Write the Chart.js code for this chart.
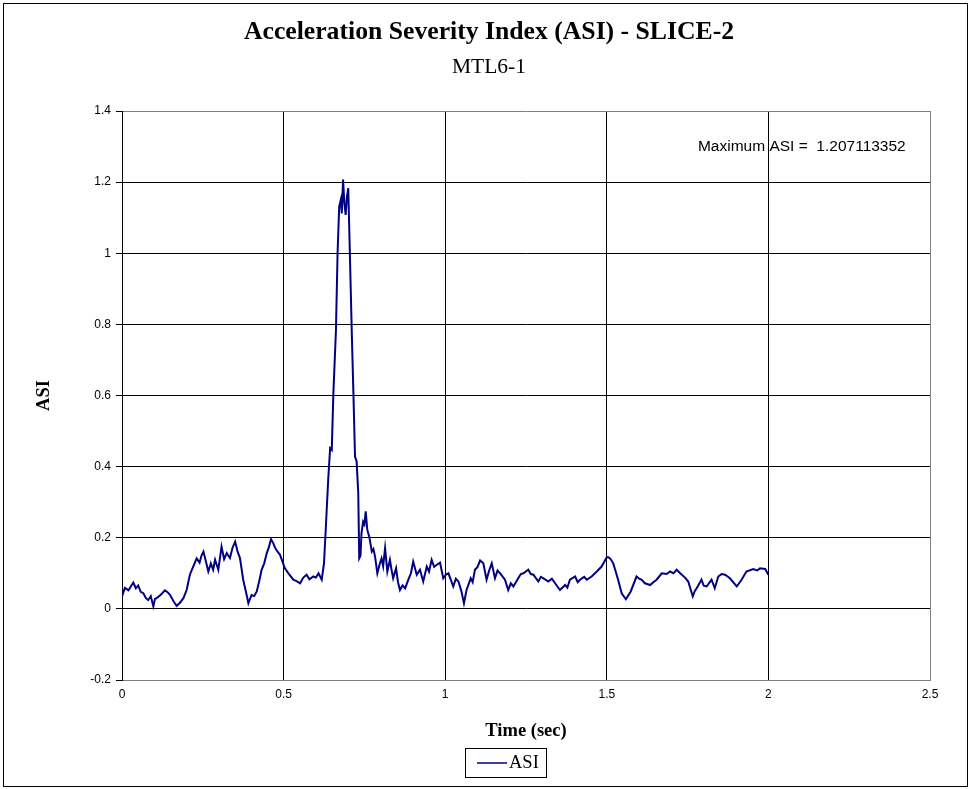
<!DOCTYPE html>
<html>
<head>
<meta charset="utf-8">
<script src="https://cdn.jsdelivr.net/npm/chart.js@4.4.1/dist/chart.umd.min.js"></script>
<style>
  body { margin: 0; background: #fff; }
  canvas { display: block; }
</style>
</head>
<body>
<canvas id="asi" width="972" height="789"></canvas>
<script>
// ASI trace (time in sec)
const time = [
  0, 0.009, 0.02, 0.035, 0.043, 0.05, 0.058, 0.066, 0.074, 0.081,
  0.089, 0.097, 0.102, 0.107, 0.12, 0.133, 0.141, 0.149, 0.159, 0.169,
  0.18, 0.19, 0.2, 0.21, 0.22, 0.231, 0.24, 0.246, 0.252, 0.26,
  0.267, 0.275, 0.282, 0.288, 0.298, 0.308, 0.316, 0.324, 0.334, 0.342,
  0.35, 0.358, 0.365, 0.375, 0.383, 0.391, 0.396, 0.401, 0.409, 0.417,
  0.425, 0.432, 0.44, 0.448, 0.455, 0.461, 0.468, 0.474, 0.482, 0.489,
  0.504, 0.515, 0.53, 0.54, 0.551, 0.561, 0.571, 0.58, 0.592, 0.6,
  0.608, 0.618, 0.625, 0.63, 0.638, 0.644, 0.649, 0.654, 0.662, 0.667,
  0.672, 0.677, 0.68, 0.684, 0.688, 0.692, 0.696, 0.7, 0.703, 0.708,
  0.711, 0.716, 0.721, 0.726, 0.731, 0.734, 0.738, 0.741, 0.746, 0.75,
  0.754, 0.759, 0.765, 0.773, 0.778, 0.783, 0.79, 0.797, 0.803, 0.808,
  0.814, 0.821, 0.829, 0.834, 0.839, 0.848, 0.854, 0.86, 0.868, 0.876,
  0.886, 0.894, 0.901, 0.912, 0.922, 0.932, 0.943, 0.95, 0.958, 0.966,
  0.974, 0.984, 0.994, 1.002, 1.01, 1.018, 1.025, 1.033, 1.041, 1.05,
  1.058, 1.066, 1.079, 1.085, 1.092, 1.1, 1.108, 1.118, 1.128, 1.136,
  1.144, 1.154, 1.162, 1.17, 1.185, 1.195, 1.203, 1.211, 1.226, 1.234,
  1.242, 1.257, 1.265, 1.273, 1.288, 1.296, 1.304, 1.319, 1.33, 1.34,
  1.355, 1.371, 1.378, 1.386, 1.402, 1.41, 1.417, 1.43, 1.438, 1.453,
  1.469, 1.484, 1.5, 1.505, 1.512, 1.52, 1.535, 1.546, 1.559, 1.574,
  1.592, 1.6, 1.608, 1.618, 1.634, 1.644, 1.654, 1.67, 1.685, 1.696,
  1.706, 1.716, 1.732, 1.742, 1.752, 1.766, 1.772, 1.778, 1.793, 1.8,
  1.809, 1.824, 1.834, 1.845, 1.855, 1.866, 1.881, 1.902, 1.917, 1.932,
  1.953, 1.965, 1.974, 1.99, 2.0
];
const asi = [
  0.035, 0.059, 0.052, 0.074, 0.058, 0.066, 0.048, 0.044, 0.030, 0.025,
  0.036, 0.007, 0.028, 0.030, 0.040, 0.052, 0.047, 0.039, 0.022, 0.008,
  0.018, 0.030, 0.053, 0.096, 0.118, 0.142, 0.130, 0.150, 0.161, 0.132,
  0.105, 0.128, 0.110, 0.138, 0.110, 0.175, 0.140, 0.157, 0.143, 0.172,
  0.189, 0.160, 0.143, 0.082, 0.050, 0.016, 0.028, 0.039, 0.036, 0.049,
  0.080, 0.110, 0.128, 0.157, 0.175, 0.196, 0.185, 0.171, 0.160, 0.152,
  0.114, 0.100, 0.082, 0.078, 0.072, 0.088, 0.096, 0.083, 0.091, 0.088,
  0.100, 0.082, 0.128, 0.217, 0.363, 0.452, 0.447, 0.606, 0.784, 1.0,
  1.131, 1.150, 1.112, 1.207, 1.141, 1.108, 1.159, 1.183, 1.075, 0.888,
  0.775, 0.606, 0.428, 0.414, 0.325, 0.142, 0.150, 0.213, 0.245, 0.238,
  0.274, 0.222, 0.203, 0.161, 0.168, 0.147, 0.100, 0.125, 0.142, 0.120,
  0.171, 0.105, 0.138, 0.110, 0.086, 0.114, 0.075, 0.053, 0.066, 0.058,
  0.082, 0.100, 0.133, 0.096, 0.110, 0.077, 0.119, 0.105, 0.138, 0.118,
  0.124, 0.130, 0.086, 0.096, 0.100, 0.080, 0.063, 0.085, 0.077, 0.050,
  0.016, 0.053, 0.086, 0.075, 0.110, 0.118, 0.136, 0.128, 0.082, 0.108,
  0.128, 0.086, 0.108, 0.100, 0.082, 0.053, 0.072, 0.063, 0.086, 0.098,
  0.100, 0.110, 0.098, 0.096, 0.077, 0.090, 0.086, 0.077, 0.085, 0.072,
  0.053, 0.067, 0.060, 0.082, 0.091, 0.075, 0.082, 0.090, 0.082, 0.091,
  0.105, 0.119, 0.145, 0.145, 0.140, 0.128, 0.082, 0.044, 0.027, 0.049,
  0.091, 0.085, 0.082, 0.072, 0.067, 0.075, 0.082, 0.100, 0.098, 0.105,
  0.100, 0.110, 0.096, 0.088, 0.077, 0.035, 0.050, 0.058, 0.082, 0.065,
  0.063, 0.082, 0.058, 0.091, 0.098, 0.096, 0.086, 0.063, 0.082, 0.105,
  0.112, 0.108, 0.114, 0.112, 0.096
];
const xTicks = [0, 0.5, 1, 1.5, 2, 2.5];
const yTicks = [-0.2, 0, 0.2, 0.4, 0.6, 0.8, 1, 1.2, 1.4];
const maxLabel = 'Maximum ASI =  1.207113352';

const serif = "'Liberation Serif', 'Times New Roman', serif";
const sans = "'Liberation Sans', Arial, sans-serif";
const lineColor = '#000080';

// frame, max annotation and boxed legend
const extras = {
  id: 'extras',
  beforeDraw(chart) {
    const ctx = chart.ctx;
    ctx.save();
    ctx.fillStyle = '#fff';
    ctx.fillRect(0, 0, chart.width, chart.height);
    ctx.restore();
  },
  afterDraw(chart) {
    const ctx = chart.ctx;
    const x = chart.scales.x, y = chart.scales.y;
    ctx.save();
    ctx.strokeStyle = '#000';
    ctx.lineWidth = 1;
    ctx.strokeRect(3.5, 3.5, 964, 783);

    ctx.fillStyle = '#000';
    ctx.font = '15.5px ' + sans;
    ctx.textAlign = 'left';
    ctx.textBaseline = 'middle';
    ctx.fillText(maxLabel, x.getPixelForValue(1.782), y.getPixelForValue(1.299));

    // legend
    ctx.strokeRect(465.5, 748.5, 81, 29);
    ctx.strokeStyle = lineColor;
    ctx.lineWidth = 1.5;
    ctx.beginPath();
    ctx.moveTo(477, 763);
    ctx.lineTo(507, 763);
    ctx.stroke();
    ctx.fillStyle = '#000';
    ctx.font = '18.5px ' + serif;
    ctx.fillText('ASI', 509, 763);
    ctx.restore();
  }
};

const edge = (v, ends) => ends.includes(v) ? '#808080' : '#000';
const fmt = v => String(Math.round(v * 10) / 10);

new Chart(document.getElementById('asi'), {
  type: 'line',
  data: {
    datasets: [{
      label: 'ASI',
      data: time.map((t, i) => ({x: t, y: asi[i]})),
      borderColor: lineColor,
      borderWidth: 2,
      pointRadius: 0,
      tension: 0,
      fill: false
    }]
  },
  options: {
    responsive: false,
    animation: false,
    layout: { padding: { top: 6, left: 6, right: 0, bottom: 46.9 } },
    plugins: {
      legend: { display: false },
      tooltip: { enabled: false },
      title: {
        display: true,
        text: 'Acceleration Severity Index (ASI) - SLICE-2',
        color: '#000',
        font: { family: serif, size: 25.7, weight: 'bold' },
        padding: { top: 10.6, bottom: 3 }
      },
      subtitle: {
        display: true,
        text: 'MTL6-1',
        color: '#000',
        font: { family: serif, size: 21.5, weight: 'normal' },
        padding: { top: 3.66, bottom: 31.1 }
      }
    },
    scales: {
      x: {
        type: 'linear',
        min: 0,
        max: 2.5,
        afterBuildTicks: s => { s.ticks = xTicks.map(v => ({value: v})); },
        afterFit: s => { s.height = 62.1; },
        ticks: { color: '#000', font: { family: sans, size: 12 }, padding: 7, maxRotation: 0, callback: fmt },
        grid: { color: c => edge(c.tick && c.tick.value, [2.5]), drawTicks: false },
        border: { color: '#808080' },
        title: {
          display: true,
          text: 'Time (sec)',
          color: '#000',
          font: { family: serif, size: 18.5, weight: 'bold' },
          padding: { top: 0, bottom: 0 }
        }
      },
      y: {
        min: -0.2,
        max: 1.4,
        afterBuildTicks: s => { s.ticks = yTicks.map(v => ({value: v})); },
        afterFit: s => { s.width = 116; },
        ticks: { color: '#000', font: { family: sans, size: 12 }, padding: 5, callback: fmt },
        grid: { color: c => edge(c.tick && c.tick.value, [1.4, -0.2]), tickLength: 6, tickColor: '#000' },
        border: { color: '#000' },
        title: {
          display: true,
          text: 'ASI',
          color: '#000',
          font: { family: serif, size: 18.5, weight: 'bold' },
          padding: { top: 27, bottom: 0 }
        }
      },
      // empty right-hand axis: keeps the plot edge at the reference position
      // while the titles centre on the whole frame
      yRight: {
        position: 'right',
        min: -0.2,
        max: 1.4,
        afterFit: s => { s.width = 42; },
        ticks: { display: false },
        grid: { display: false },
        border: { display: false }
      }
    }
  },
  plugins: [extras]
});
</script>
</body>
</html>
